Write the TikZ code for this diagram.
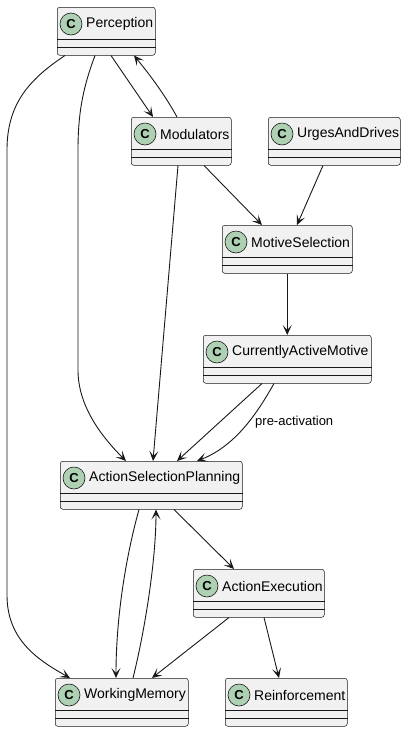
\documentclass[tikz,border=0pt]{standalone}
\usepackage{fontspec}
\setmainfont{Liberation Sans}
\usetikzlibrary{arrows.meta}
\definecolor{clsfill}{HTML}{F1F1F1}
\definecolor{clsline}{HTML}{181818}
\definecolor{clsspot}{HTML}{ADD1B2}
\begin{document}
\begin{tikzpicture}[x=1pt,y=-1pt,
  cls/.style={draw=clsline,fill=clsfill,line width=0.5pt,rounded corners=2.5pt,
    minimum height=48pt,anchor=north west,inner sep=0pt},
  clsspot/.style={circle,draw=clsline,fill=clsspot,line width=0.6pt,minimum size=22pt,
    inner sep=0pt,font=\fontsize{13}{13}\selectfont\bfseries},
  clsname/.style={anchor=west,inner sep=0pt,font=\fontsize{14}{16}\selectfont},
  rel/.style={draw=clsline,line width=0.9pt,-{Stealth[length=10pt,width=9pt,inset=5pt]}},
  edgelabel/.style={anchor=west,inner sep=0pt,font=\fontsize{13}{15}\selectfont}]
\useasboundingbox (0,0) rectangle (406,732);

% class boxes
\foreach \n/\x/\y/\w/\t in {
  perc/57/7/98/Perception,
  mod/131/117/100/Modulators,
  urges/268/117/132/UrgesAndDrives,
  motsel/222/225/130/MotiveSelection,
  actmot/203/335/168/CurrentlyActiveMotive,
  asp/60/461/182/ActionSelectionPlanning,
  actexec/193/569/131/ActionExecution,
  wmem/55/678/133/WorkingMemory,
  reinf/225/678/122/Reinforcement}{
  \node[cls,minimum width=\w pt] (\n) at (\x,\y) {};
  \draw[clsline,line width=0.5pt]
  ([yshift=-32pt]\n.north west) -- ([yshift=-32pt]\n.north east)
  ([yshift=-40pt]\n.north west) -- ([yshift=-40pt]\n.north east);
  \node[clsspot] (\n-spot) at ([xshift=14pt,yshift=-17pt]\n.north west) {C};
  \node[clsname] (\n-name) at ([xshift=29pt,yshift=-17pt]\n.north west) {\t};
}

% perception
\draw[rel] ([xshift=8pt]perc.south west)
  .. controls (28,80) and (7,105) .. (7,150) -- (7,595)
  .. controls (7,640) and (38,660) .. ([xshift=15pt]wmem.north west);
\draw[rel] ([xshift=38pt]perc.south west)
  .. controls (84,85) and (78,110) .. (78,150) -- (78,370)
  .. controls (78,405) and (100,435) .. ([xshift=66pt]asp.north west);
\draw[rel] ([xshift=54pt]perc.south west) -- ([xshift=22pt]mod.north west);
\draw[rel] ([xshift=46pt]mod.north west)
  .. controls (165,95) and (150,75) .. ([xshift=77pt]perc.south west);

% modulators, urges, motives
\draw[rel] ([xshift=47pt]mod.south west) -- ([xshift=93pt]asp.north west);
\draw[rel] ([xshift=73pt]mod.south west) -- ([xshift=40pt]motsel.north west);
\draw[rel] ([xshift=55pt]urges.south west) -- ([xshift=75pt]motsel.north west);
\draw[rel] (motsel.south) -- (actmot.north);
\draw[rel] ([xshift=59pt]actmot.south west) -- ([xshift=117pt]asp.north west);
\draw[rel] ([xshift=71pt]actmot.south west)
  .. controls (260,408) and (238,445) .. ([xshift=137pt]asp.north west);
\node[edgelabel] (preact) at (255,422) {pre-activation};

% action selection and execution
\draw[rel] ([xshift=79pt]asp.south west)
  .. controls (125,560) and (116,620) .. ([xshift=61pt]wmem.north west);
\draw[rel] ([xshift=78pt]wmem.north west)
  .. controls (145,630) and (156,560) .. ([xshift=96pt]asp.south west);
\draw[rel] ([xshift=114pt]asp.south west) -- ([xshift=41pt]actexec.north west);
\draw[rel] ([xshift=36pt]actexec.south west) -- ([xshift=97pt]wmem.north west);
\draw[rel] ([xshift=71pt]actexec.south west) -- ([xshift=54pt]reinf.north west);
\end{tikzpicture}
\end{document}
